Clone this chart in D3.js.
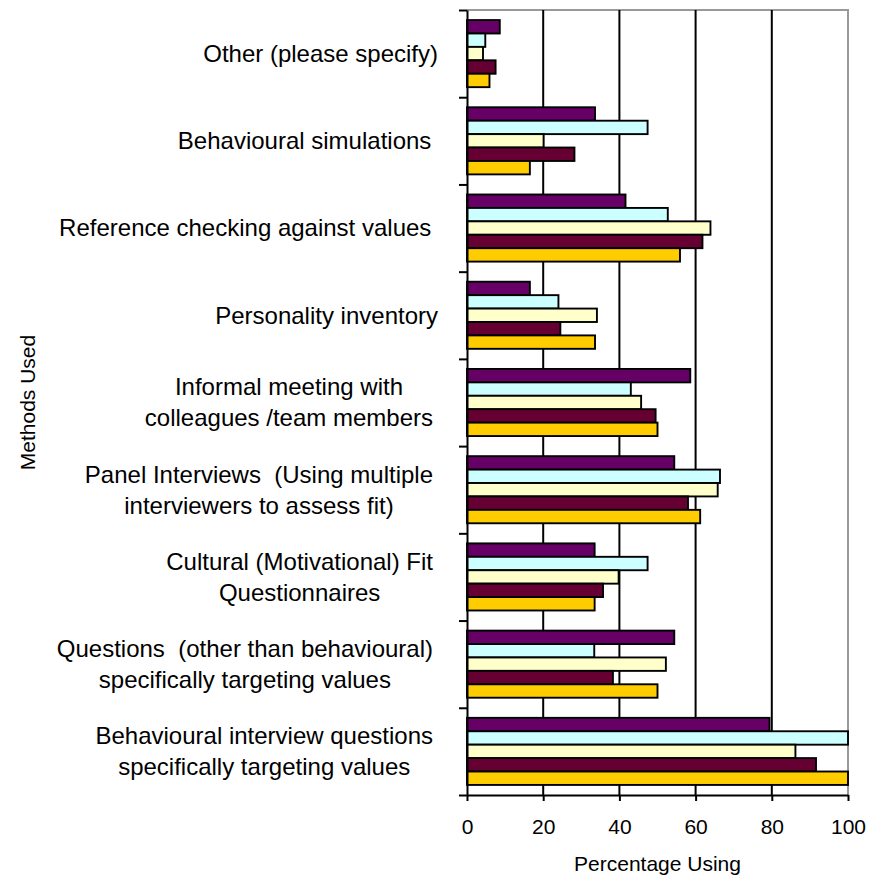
<!DOCTYPE html>
<html>
<head>
<meta charset="utf-8">
<script src="https://cdn.jsdelivr.net/npm/d3@7"></script>
<style>
  body { margin: 0; background: #fff; }
  text { font-family: "Liberation Sans", Arial, sans-serif; fill: #000; }
</style>
</head>
<body>
<script>
// methods, top to bottom (each entry = lines of the label)
var categories = [
  ["Other (please specify)"],
  ["Behavioural simulations "],
  ["Reference checking against values "],
  ["Personality inventory"],
  ["Informal meeting with", "colleagues /team members"],
  ["Panel Interviews  (Using multiple", "interviewers to assess fit)"],
  ["Cultural (Motivational) Fit", "Questionnaires"],
  ["Questions  (other than behavioural)", "specifically targeting values"],
  ["Behavioural interview questions", "specifically targeting values"]
];

// five groups of respondents, drawn top to bottom inside each method
var series1 = [8.6, 33.6, 41.6, 16.5, 58.6, 54.4, 33.5, 54.4, 79.4];
var series2 = [4.8, 47.4, 52.7, 24.0, 43.0, 66.4, 47.4, 33.4, 100];
var series3 = [4.2, 20.1, 63.9, 34.1, 45.7, 65.8, 39.8, 52.2, 86.2];
var series4 = [7.5, 28.2, 61.8, 24.5, 49.5, 58.0, 35.7, 38.3, 91.6];
var series5 = [5.9, 16.5, 55.9, 33.6, 50.0, 61.2, 33.5, 50.0, 100];

var xTicks = [0, 20, 40, 60, 80, 100];
var colors = ["#660066", "#ccffff", "#ffffcc", "#660033", "#ffcc00"];

var allSeries = [series1, series2, series3, series4, series5];

var svgWidth = 876;
var svgHeight = 880;
var margin = { top: 10, right: 28, bottom: 85, left: 467 };
var width = svgWidth - margin.left - margin.right;
var height = svgHeight - margin.top - margin.bottom;

var svg = d3.select("body")
  .append("svg")
  .attr("width", svgWidth)
  .attr("height", svgHeight);

var chartGroup = svg.append("g")
  .attr("transform", `translate(${margin.left}, ${margin.top})`);

// scales
var xScale = d3.scaleLinear().domain([0, 100]).range([0, width]);
var yScale = d3.scaleBand()
  .domain(d3.range(categories.length))
  .range([0, height])
  .padding(0);
var ySub = d3.scaleBand()
  .domain(d3.range(allSeries.length))
  .range([0, yScale.bandwidth()])
  .paddingInner(0)
  .paddingOuter(0.75);

// frame (top + right in grey)
chartGroup.append("path")
  .attr("d", `M0,0H${width}V${height}`)
  .attr("fill", "none")
  .attr("stroke", "#999")
  .attr("stroke-width", 2);

// vertical gridlines
chartGroup.selectAll(".grid")
  .data(xTicks.filter(t => t > 0 && t < 100))
  .enter()
  .append("line")
  .attr("class", "grid")
  .attr("x1", d => xScale(d))
  .attr("x2", d => xScale(d))
  .attr("y1", 0)
  .attr("y2", height)
  .attr("stroke", "#000")
  .attr("stroke-width", 2);

// bars
var rows = [];
allSeries.forEach(function(s, si) {
  s.forEach(function(v, ci) {
    rows.push({ ci: ci, si: si, value: v });
  });
});

chartGroup.selectAll(".bar")
  .data(rows)
  .enter()
  .append("rect")
  .attr("class", "bar")
  .attr("x", 0)
  .attr("y", d => yScale(d.ci) + ySub(d.si))
  .attr("width", d => xScale(d.value))
  .attr("height", ySub.bandwidth())
  .attr("fill", d => colors[d.si])
  .attr("stroke", "#000")
  .attr("stroke-width", 1.9);

// x axis
var bottomAxis = d3.axisBottom(xScale)
  .tickValues(xTicks)
  .tickSize(6)
  .tickSizeOuter(0)
  .tickPadding(18);

var xAxis = chartGroup.append("g")
  .attr("transform", `translate(0, ${height})`)
  .call(bottomAxis);
xAxis.select(".domain").attr("stroke", "#000").attr("stroke-width", 2);
xAxis.selectAll(".tick line").attr("stroke", "#000").attr("stroke-width", 2);
xAxis.selectAll(".tick text")
  .style("font-size", "21px")
  .style("font-family", "'Liberation Sans', Arial, sans-serif");

// y axis: ticks between categories
var tickScale = d3.scaleLinear().domain([0, categories.length]).range([0, height]);
var leftAxis = d3.axisLeft(tickScale)
  .tickValues(d3.range(categories.length + 1))
  .tickSize(8)
  .tickSizeOuter(0)
  .tickFormat("");

var yAxis = chartGroup.append("g").call(leftAxis);
yAxis.select(".domain").attr("stroke", "#000").attr("stroke-width", 2);
yAxis.selectAll(".tick line").attr("stroke", "#000").attr("stroke-width", 2);

// category labels: centered block, right edge near the axis
var labelRight = -29;
var lineGap = 31;
var labels = chartGroup.append("g")
  .selectAll("text")
  .data(categories)
  .enter()
  .append("text")
  .style("font-size", "24px")
  .attr("xml:space", "preserve")
  .style("white-space", "pre");

labels.each(function(lines, i) {
  var t = d3.select(this);
  var cy = yScale(i) + yScale.bandwidth() / 2;
  lines.forEach(function(line, li) {
    t.append("tspan")
      .attr("y", cy + (li - (lines.length - 1) / 2) * lineGap)
      .attr("dy", "0.35em")
      .text(line);
  });
  var maxW = 0;
  t.selectAll("tspan").each(function() {
    maxW = Math.max(maxW, this.getComputedTextLength());
  });
  var right = lines.length > 1 ? labelRight - 5 : labelRight;
  t.selectAll("tspan")
    .attr("x", right - maxW / 2)
    .attr("text-anchor", "middle");
});

// y axis label
svg.append("text")
  .attr("transform", "rotate(-90)")
  .attr("x", -(margin.top + height / 2))
  .attr("y", 28)
  .attr("dy", "0.35em")
  .attr("text-anchor", "middle")
  .style("font-size", "21px")
  .text("Methods Used");

// x axis label
svg.append("text")
  .attr("x", margin.left + width / 2)
  .attr("y", 871)
  .attr("text-anchor", "middle")
  .style("font-size", "21px")
  .text("Percentage Using");
</script>
</body>
</html>
